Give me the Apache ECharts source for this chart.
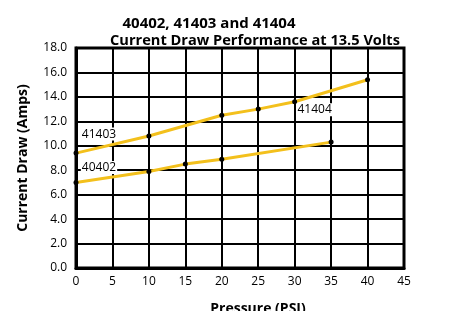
<!DOCTYPE html>
<html>
<head>
<meta charset="utf-8">
<script src="https://cdn.jsdelivr.net/npm/echarts@6/dist/echarts.min.js"></script>
<style>html,body{margin:0;padding:0;background:#fff}#c{width:461px;height:311px}</style>
</head>
<body>
<div id="c"></div>
<script>
// Data
const titleLines = ['40402, 41403 and 41404', 'Current Draw Performance at 13.5 Volts'];
const xName = 'Pressure (PSI)';
const yName = 'Current Draw (Amps)';
const upperPressure = [0, 10, 20, 25, 30, 40];
const upperCurrent = [9.4, 10.8, 12.5, 13.0, 13.6, 15.4];
const lowerPressure = [0, 10, 15, 20, 35];
const lowerCurrent = [7.0, 7.9, 8.5, 8.9, 10.3];
const upperLabels = { 0: '41403', 30: '41404' };
const lowerLabels = { 0: '40402' };

const FONT = '"Open Sans", "Liberation Sans", sans-serif';
const LINE_COLOR = '#F3C01C';

function buildData(xs, ys, labels, offsets) {
  return xs.map((x, i) => {
    const item = { value: [x, ys[i]] };
    if (labels[x] !== undefined) {
      item.label = {
        show: true,
        formatter: labels[x],
        position: 'inside',
        offset: offsets[x],
        color: '#000',
        fontFamily: FONT,
        fontSize: 12,
        backgroundColor: '#fff',
        padding: [1, 1, 0, 1]
      };
    }
    return item;
  });
}

const chart = echarts.init(document.getElementById('c'), null, { renderer: 'canvas' });
chart.setOption({
  animation: false,
  backgroundColor: '#fff',
  title: [
    { text: titleLines[0], left: 204, top: 11, textAlign: 'center',
      textStyle: { fontFamily: FONT, fontWeight: 'bold', fontSize: 15, color: '#000' } },
    { text: titleLines[1], left: 250, top: 28, textAlign: 'center',
      textStyle: { fontFamily: FONT, fontWeight: 'bold', fontSize: 14.6, color: '#000' } }
  ],
  grid: { left: 76, right: 57, top: 48, bottom: 43, outerBoundsMode: 'none', containLabel: false,
    show: true, borderColor: '#000', borderWidth: 3 },
  xAxis: {
    type: 'value', min: 0, max: 45, interval: 5,
    name: xName, nameLocation: 'middle', nameGap: 34,
    nameTextStyle: { fontFamily: FONT, fontWeight: 'bold', fontSize: 14, color: '#000', padding: [0, 0, 0, 36] },
    axisLine: { lineStyle: { color: '#000', width: 3 } },
    axisTick: { show: false },
    axisLabel: { color: '#000', fontFamily: FONT, fontSize: 12, margin: 8 },
    splitLine: { lineStyle: { color: '#000', width: 2 } }
  },
  yAxis: {
    type: 'value', min: 0, max: 18, interval: 2,
    name: yName, nameLocation: 'middle', nameGap: 46,
    nameTextStyle: { fontFamily: FONT, fontWeight: 'bold', fontSize: 14, color: '#000' },
    axisLine: { show: true, lineStyle: { color: '#000', width: 3 } },
    axisTick: { show: false },
    axisLabel: { color: '#000', fontFamily: FONT, fontSize: 12, margin: 9, formatter: v => v.toFixed(1) },
    splitLine: { lineStyle: { color: '#000', width: 2 } }
  },
  series: [
    {
      name: '41403 / 41404', type: 'line',
      data: buildData(upperPressure, upperCurrent, upperLabels, { 0: [23, -19], 30: [20, 8] }),
      lineStyle: { color: LINE_COLOR, width: 3 },
      itemStyle: { color: '#000' },
      symbol: 'circle', symbolSize: 5, z: 3
    },
    {
      name: '40402', type: 'line',
      data: buildData(lowerPressure, lowerCurrent, lowerLabels, { 0: [23, -15] }),
      lineStyle: { color: LINE_COLOR, width: 3 },
      itemStyle: { color: '#000' },
      symbol: 'circle', symbolSize: 5, z: 3
    }
  ]
});
</script>
</body>
</html>
